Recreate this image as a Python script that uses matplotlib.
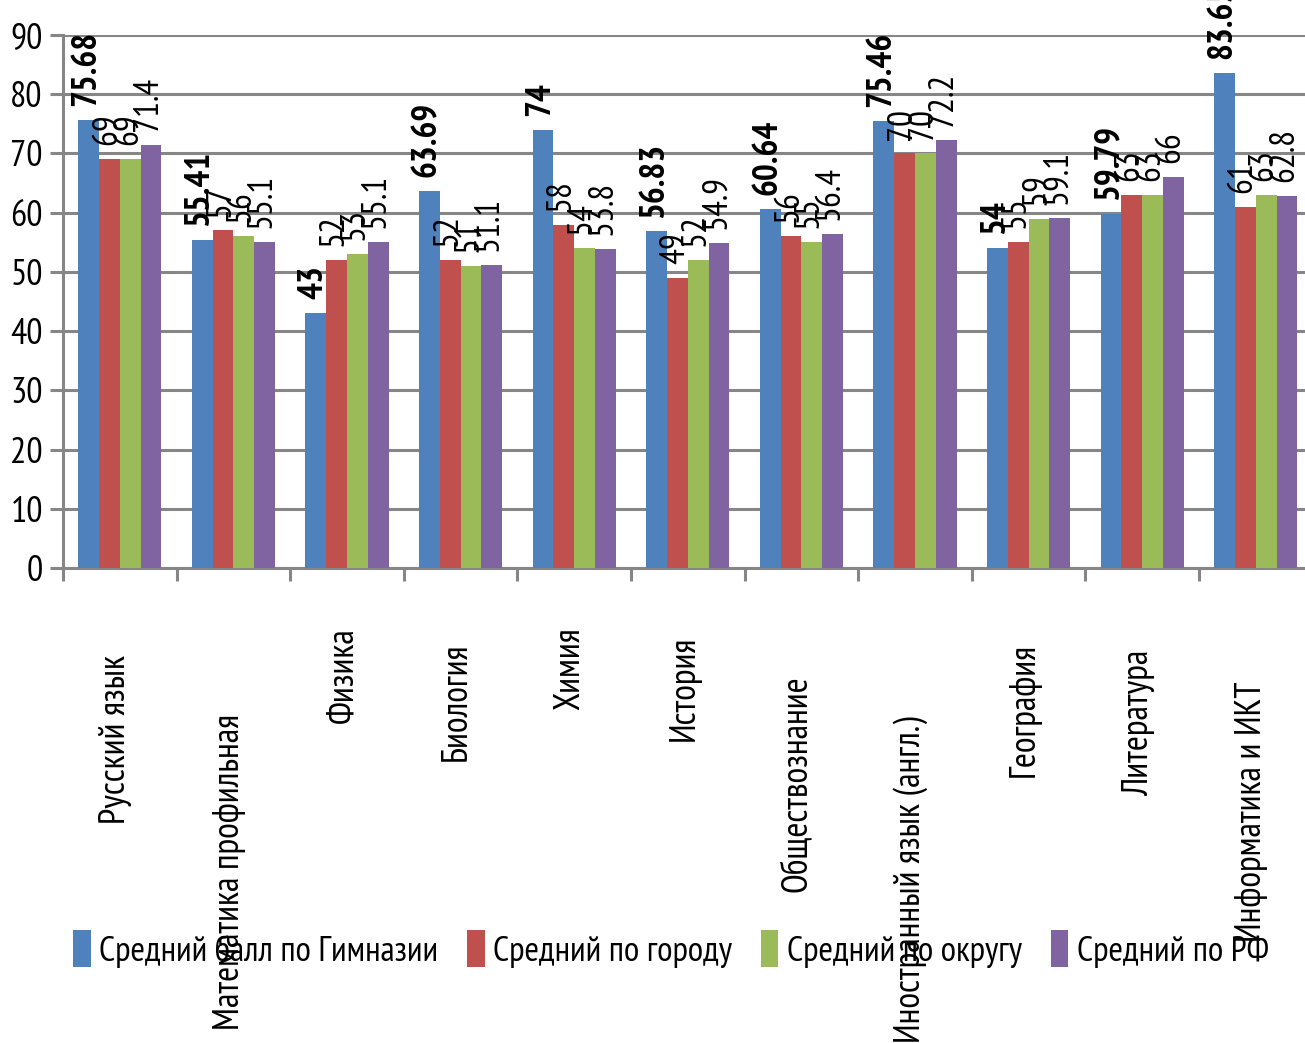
import matplotlib
matplotlib.use("Agg")
import matplotlib.pyplot as plt
import matplotlib.transforms as mtransforms
from matplotlib import font_manager
import numpy as np

categories = ["Русский язык", "Математика профильная", "Физика", "Биология", "Химия",
              "История", "Обществознание", "Иностранный язык (англ.)", "География",
              "Литература", "Информатика и ИКТ"]
series_names = ["Средний балл по Гимназии", "Средний по городу", "Средний по округу", "Средний по РФ"]
gymnasium = [75.68, 55.41, 43, 63.69, 74, 56.83, 60.64, 75.46, 54, 59.79, 83.65]
city = [69, 57, 52, 52, 58, 49, 56, 70, 55, 63, 61]
district = [69, 56, 53, 51, 54, 52, 55, 70, 59, 63, 63]
russia = [71.4, 55.1, 55.1, 51.1, 53.8, 54.9, 56.4, 72.2, 59.1, 66, 62.8]
yticks = [0, 10, 20, 30, 40, 50, 60, 70, 80, 90]

# layout (pixel centre of each rotated category label)
label_centers_px = [740, 872, 675, 702, 669, 688, 784, 880, 710, 723, 812]

colors = ["#4F81BD", "#C0504D", "#9BBB59", "#8064A2"]
names = {f.name for f in font_manager.fontManager.ttflist}
FONT = "DejaVu Sans"
for cand in ["PT Sans Narrow", "Roboto Condensed", "Fira Sans Condensed", "Ubuntu Condensed",
             "IBM Plex Sans Condensed", "Liberation Sans Narrow", "Arial Narrow"]:
    if cand in names:
        FONT = cand
        break
plt.rcParams["font.family"] = [FONT, "DejaVu Sans"]

W, H = 1305, 1043
fig = plt.figure(figsize=(W / 100, H / 100), dpi=100)
cat_px = 113.6
ax = fig.add_axes([63 / W, 1 - 568 / H, 11 * cat_px / W, (568 - 35) / H])

series = [gymnasium, city, district, russia]
x = np.arange(len(categories))
bw = 0.183
grid_c = "#868686"
for k, vals in enumerate(series):
    pos = x + (k - 1.5) * bw
    bars = ax.bar(pos, vals, width=bw, color=colors[k], zorder=3, label=series_names[k])
    for b, v in zip(bars, vals):
        txt = f"{v:g}"
        ax.annotate(txt, (b.get_x() + b.get_width() / 2, v), xytext=(-2, 10),
                    textcoords="offset points", rotation=90, ha="center", va="bottom",
                    fontsize=25.5, fontweight="bold" if k == 0 else "normal",
                    zorder=5, annotation_clip=False)

ax.set_xlim(-0.5, len(categories) - 0.5)
ax.set_ylim(0, 90)
ax.set_yticks(yticks)
ax.set_yticklabels([str(t) for t in yticks], fontsize=26)
ax.set_xticks(np.arange(len(categories) + 1) - 0.5)
ax.set_xticklabels([])
ax.yaxis.grid(True, color=grid_c, linewidth=2.2, zorder=0)
ax.set_axisbelow(True)
for s in ["top", "right"]:
    ax.spines[s].set_visible(False)
for s in ["left", "bottom"]:
    ax.spines[s].set_color(grid_c)
    ax.spines[s].set_linewidth(2.2)
ax.tick_params(axis="y", length=9.5, width=2.2, color=grid_c, pad=5)
ax.tick_params(axis="x", length=9, width=2.2, color=grid_c)

trans = mtransforms.blended_transform_factory(ax.transData, fig.transFigure) + \
    mtransforms.ScaledTranslation(-4 / 100, 0, fig.dpi_scale_trans)
for i, (lab, cy) in enumerate(zip(categories, label_centers_px)):
    ax.text(i, 1 - cy / H, lab, rotation=90, ha="center", va="center", fontsize=26,
            transform=trans, clip_on=False)

fig.legend(loc="center", bbox_to_anchor=(671 / W, 1 - 949 / H), ncol=4, frameon=False,
           fontsize=25.5, handlelength=0.5, handleheight=1.2, handletextpad=0.25,
           columnspacing=0.8)

fig.savefig("out.png", dpi=100)
